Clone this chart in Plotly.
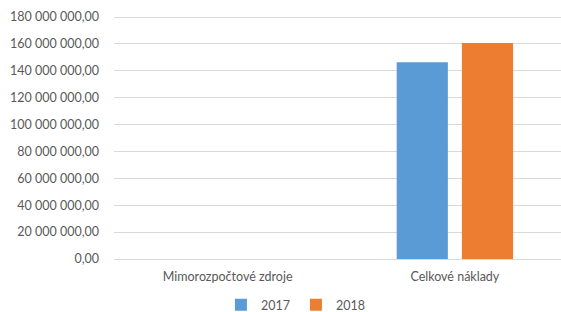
import plotly.graph_objects as go

categories = ["Mimorozpočtové zdroje", "Celkové náklady"]
series_2017 = [0, 146300000]
series_2018 = [0, 160800000]
series_names = ["2017", "2018"]
colors = ["#5B9BD5", "#ED7D31"]

fig = go.Figure()
for name, vals, col in zip(series_names, [series_2017, series_2018], colors):
    fig.add_trace(go.Bar(x=categories, y=vals, name=name, marker_color=col,
                         marker_line_width=0))

fig.update_layout(
    width=561, height=312,
    margin=dict(l=114, r=0, t=16, b=53, autoexpand=False),
    paper_bgcolor="white", plot_bgcolor="white",
    barmode="group", bargap=0.426, bargroupgap=0.215,
    separators=", ",
    font=dict(family="Lato, Open Sans, sans-serif", size=12.5, color="#595959"),
    showlegend=True,
    legend=dict(orientation="h", x=0.407, xanchor="center", y=-0.19, yanchor="middle",
                font=dict(size=12.5, color="#595959"), itemwidth=30,
                entrywidth=30, entrywidthmode="pixels",
                traceorder="normal"),
    xaxis=dict(range=[-0.5, 1.467], showgrid=False, showline=True, automargin=False,
               linecolor="#d9d9d9", linewidth=1, ticks="", tickfont=dict(size=12.5),
               ticklabelstandoff=6),
    yaxis=dict(range=[0, 180800000], tickvals=[i * 20000000 for i in range(10)],
               tickformat=",.2f", automargin=False,
               showgrid=True, gridcolor="#d9d9d9", gridwidth=1,
               zeroline=False, showline=False, ticks="",
               ticklabelstandoff=14, tickfont=dict(size=12.5)),
)

fig.write_html("out.html", config={"displayModeBar": False},
               post_script="document.body.style.margin='0';")
